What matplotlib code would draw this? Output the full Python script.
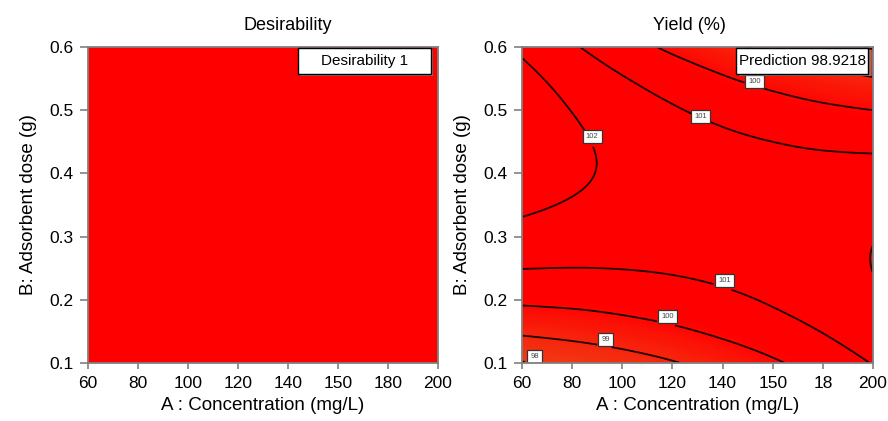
import numpy as np
import matplotlib
matplotlib.use('Agg')
import matplotlib.pyplot as plt
import matplotlib.tri as mtri
from matplotlib.colors import LinearSegmentedColormap
from matplotlib.patches import Rectangle

plt.rcParams['font.family'] = ['Liberation Sans', 'DejaVu Sans']

# grid
conc = [60, 80, 100, 120, 140, 160, 180, 200]
dose = [0.10, 0.15, 0.20, 0.25, 0.30, 0.35, 0.40, 0.45, 0.50, 0.55, 0.60]
left_xticklabels = ['60', '80', '100', '120', '140', '150', '180', '200']
right_xticklabels = ['60', '80', '100', '120', '140', '150', '18', '200']
yticks = [0.1, 0.2, 0.3, 0.4, 0.5, 0.6]

desirability = 1.0
prediction = 98.9218

# yield (%) rows = dose, cols = conc
yield_pct = [
    [97.94, 98.21, 98.54, 98.93, 99.37, 99.87, 100.43, 101.04],
    [99.15, 99.32, 99.55, 99.83, 100.18, 100.58, 101.03, 101.55],
    [100.17, 100.24, 100.37, 100.56, 100.80, 101.10, 101.46, 101.87],
    [101.02, 100.99, 101.02, 101.10, 101.24, 101.44, 101.70, 102.01],
    [101.68, 101.55, 101.48, 101.46, 101.50, 101.60, 101.76, 101.97],
    [102.16, 101.93, 101.76, 101.64, 101.58, 101.58, 101.64, 101.75],
    [102.46, 102.13, 101.86, 101.64, 101.48, 101.38, 101.33, 101.35],
    [102.58, 102.15, 101.77, 101.46, 101.20, 101.00, 100.85, 100.76],
    [102.51, 101.98, 101.51, 101.09, 100.73, 100.43, 100.18, 100.00],
    [102.27, 101.64, 101.06, 100.55, 100.09, 99.68, 99.34, 99.05],
    [101.84, 101.11, 100.44, 99.82, 99.26, 98.75, 98.31, 97.92],
]
contour_levels = [98, 99, 100, 101, 102]
label_pos = [(65.0, 0.11), (93.3, 0.137), (118, 0.173), (140.7, 0.23),
             (88, 0.458), (131.3, 0.49), (152.7, 0.545)]

gray = '#808080'


def style_axes(ax, xlabels):
    ax.set_xlim(60, 200)
    ax.set_ylim(0.1, 0.6)
    ax.set_xticks(conc)
    ax.set_xticklabels(xlabels)
    ax.set_yticks(yticks)
    ax.set_yticklabels(['%.1f' % t for t in yticks])
    ax.tick_params(axis='both', direction='out', width=1.2,
                   color=gray, labelsize=12.5)
    ax.tick_params(axis='x', length=4.5, pad=4.5)
    ax.tick_params(axis='y', length=6, pad=4.5)
    for s in ax.spines.values():
        s.set_color(gray)
        s.set_linewidth(1.3)
        s.set_zorder(8)
    ax.set_xlabel('A : Concentration (mg/L)', fontsize=13.5, labelpad=5)
    ax.set_ylabel('B: Adsorbent dose (g)', fontsize=13.5, labelpad=9)


def info_box(ax, x0, x1, text):
    y0, h = 0.915, 0.082
    ax.add_patch(Rectangle((x0 + 0.007, y0 - 0.008), x1 - x0, h, transform=ax.transAxes,
                           fc='#7a7a7a', ec='none', zorder=9))
    ax.add_patch(Rectangle((x0, y0), x1 - x0, h, transform=ax.transAxes,
                           fc='white', ec='black', lw=1.0, zorder=10))
    ax.text((x0 + x1) / 2, y0 + h / 2, text, transform=ax.transAxes,
            ha='center', va='center', fontsize=11, zorder=11)


fig = plt.figure(figsize=(8.88, 4.21), dpi=100)
ax1 = fig.add_axes([88 / 888, 58 / 421, 350 / 888, 316 / 421])
ax2 = fig.add_axes([522 / 888, 58 / 421, 351 / 888, 316 / 421])

# Desirability
desir_cmap = LinearSegmentedColormap.from_list('desir', ['#0000ff', '#00ff00', '#ffff00', '#ff0000'])
D = np.full((len(dose), len(conc)), desirability)
ax1.pcolormesh(conc, dose, D, cmap=desir_cmap, vmin=0, vmax=1, shading='gouraud')
style_axes(ax1, left_xticklabels)
ax1.set_title('Desirability', fontsize=13, pad=12, x=0.57)
info_box(ax1, 0.60, 0.98, 'Desirability %d' % desirability)

# Yield
X, Y = np.meshgrid(conc, dose)
Z = np.array(yield_pct)
scale = 400.0
tri = mtri.Triangulation(X.ravel(), Y.ravel() * scale)
tri_f, z_f = mtri.UniformTriRefiner(tri).refine_field(Z.ravel(), subdiv=4)
tri_f = mtri.Triangulation(tri_f.x, tri_f.y / scale, tri_f.triangles)

yield_cmap = LinearSegmentedColormap.from_list(
    'yld', [(0.0, '#ee4014'), (0.3, '#f8200a'), (0.5, '#ff0000'), (1.0, '#ff0000')])
ax2.tricontourf(tri_f, z_f, levels=np.linspace(97.5, 103, 56), cmap=yield_cmap,
                vmin=97.8, vmax=102.6, extend='both')
cs = ax2.tricontour(tri_f, z_f, levels=contour_levels, colors='#1e0000', linewidths=1.3)
labels = ax2.clabel(cs, fmt='%d', fontsize=5.5, manual=label_pos, inline=True, inline_spacing=3)
for t, pos in zip(labels, label_pos):
    t.set_position(pos)
    t.set_rotation(0)
    t.set_color('#444444')
    t.set_zorder(7)
    t.set_bbox(dict(boxstyle='square,pad=0.4', fc='white', ec='#333333', lw=0.9))
style_axes(ax2, right_xticklabels)
ax2.set_title('Yield (%)', fontsize=13, pad=12, x=0.476)
info_box(ax2, 0.61, 0.986, 'Prediction %.4f' % prediction)

fig.savefig('out.png', dpi=100)
